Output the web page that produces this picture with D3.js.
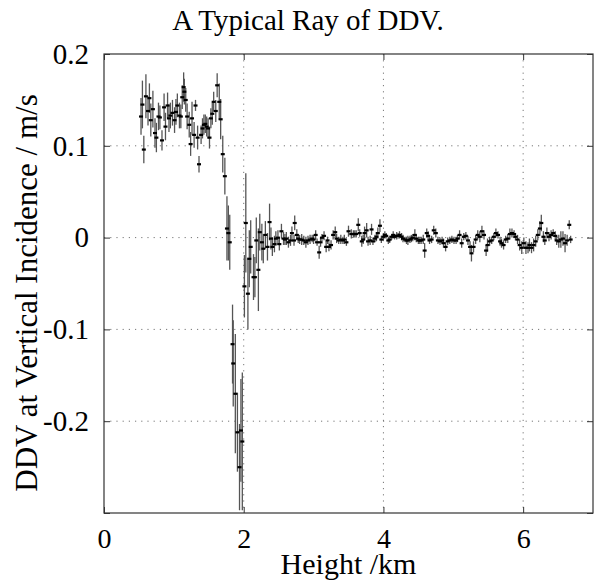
<!DOCTYPE html>
<html>
<head>
<meta charset="utf-8">
<script src="https://cdn.jsdelivr.net/npm/d3@7"></script>
<style>
  body { margin: 0; background: #fff; }
  svg { display: block; }
  .axis text { fill: #000; }
  .axis line { stroke: #333; }
  .axis path { display: none; }
</style>
</head>
<body>
<div id="chart"></div>
<script>
// heights (km) of each sample
const heights = [
  // below the layer
  0.53,0.55,0.57,0.60,0.63,0.65,0.67,0.70,0.73,0.75,
  0.78,0.80,0.83,0.86,0.88,0.91,0.93,0.95,0.98,1.01,
  1.03,1.05,1.08,1.10,1.12,1.14,1.15,1.17,1.19,1.22,
  1.24,1.26,1.29,1.31,1.34,1.36,1.39,1.41,1.43,1.45,
  1.47,1.49,1.51,1.53,1.55,1.57,1.60,1.62,1.65,1.67,
  1.70,1.73,
  // drop
  1.76,1.78,1.80,1.84,1.85,1.88,1.91,1.94,1.96,1.98,
  // above
  2.01,2.03,2.06,2.08,2.10,2.14,2.16,2.18,2.21,2.23,
  2.26,2.28,2.31,2.34,2.37,2.39,2.41,2.44,2.46,2.49,
  2.51,2.54,2.57,2.59,2.61,2.64,2.67,2.69,2.72,2.73,
  2.76,2.78,2.80,2.83,2.86,2.89,2.92,2.95,2.98,3.00,
  3.03,3.05,3.08,3.10,3.12,3.15,3.18,3.20,3.22,3.25,
  3.28,3.31,3.33,3.36,3.39,3.42,3.44,3.47,3.50,
  3.54,3.57,3.59,3.61,3.64,3.66,3.69,3.71,3.73,3.76,
  3.78,3.81,3.83,3.85,3.88,3.90,3.92,3.95,3.97,4.00,
  4.02,4.04,4.07,4.09,4.12,4.14,4.16,4.19,4.21,4.23,
  4.26,4.28,4.31,4.33,4.35,4.38,4.40,4.42,4.45,4.47,
  4.50,4.52,4.54,4.57,4.59,4.62,4.64,
  4.66,4.69,4.72,4.75,4.78,4.81,4.84,4.86,4.89,4.92,
  4.95,4.98,5.01,5.04,5.06,5.09,5.12,5.15,5.18,5.21,
  5.24,5.26,5.29,5.32,5.35,5.38,5.41,5.44,5.47,5.49,
  5.52,5.55,5.58,5.61,5.64,5.67,5.69,5.72,5.75,5.78,
  5.81,5.84,5.87,5.89,5.92,5.95,5.98,6.01,6.04,6.07,
  6.09,6.12,6.15,6.18,6.21,6.24,6.26,6.29,6.31,6.34,
  6.37,6.40,6.43,6.46,6.48,6.51,6.54,6.57,6.60,6.63,
  6.66,6.68
];

// DDV at vertical incidence (m/s)
const ddv = [
  0.132,0.145,0.096,0.154,0.138,0.152,0.128,0.140,0.114,0.109,
  0.132,0.131,0.106,0.142,0.121,0.144,0.130,0.133,0.136,0.128,
  0.137,0.144,0.133,0.132,0.153,0.164,0.159,0.150,0.132,0.123,
  0.102,0.130,0.112,0.144,0.109,0.080,0.112,0.119,0.123,0.124,
  0.121,0.119,0.109,0.130,0.135,0.148,0.138,0.166,0.148,0.129,
  0.091,0.067,
  0.010,0.005,-0.005,-0.116,-0.137,-0.170,-0.212,-0.250,-0.210,-0.222,
  -0.053,0.016,-0.061,-0.023,-0.010,-0.043,-0.043,-0.003,-0.035,0.006,
  -0.005,-0.012,0.003,-0.010,0.017,-0.001,-0.010,-0.007,-0.001,0.000,
  -0.007,0.007,-0.001,-0.002,-0.001,-0.005,-0.003,0.005,-0.003,0.016,
  0.003,-0.001,-0.002,-0.002,-0.003,-0.005,-0.003,-0.002,-0.001,-0.002,
  0.003,-0.005,-0.016,-0.005,0.000,0.002,-0.010,-0.003,-0.010,-0.008,
  0.003,0.006,-0.001,-0.003,-0.002,-0.003,-0.002,-0.005,0.007,
  0.004,0.004,0.004,0.004,0.014,0.005,-0.004,-0.002,0.005,0.008,
  -0.004,-0.003,0.009,-0.004,-0.001,0.001,0.005,0.013,-0.002,0.001,
  0.003,0.002,-0.003,-0.002,0.001,0.003,0.001,0.002,0.002,0.003,
  0.001,-0.001,-0.002,-0.003,-0.003,-0.002,-0.001,0.000,0.003,-0.001,
  -0.003,-0.003,-0.003,-0.002,-0.014,0.005,0.002,
  -0.003,-0.002,0.008,0.005,-0.003,-0.004,-0.003,-0.006,-0.010,-0.004,
  -0.003,-0.002,-0.003,-0.003,-0.001,0.003,-0.006,0.001,0.002,-0.003,
  -0.010,-0.017,-0.010,-0.002,0.003,0.001,0.007,0.003,-0.014,-0.008,
  -0.004,-0.003,0.001,0.005,0.003,-0.004,-0.006,-0.008,-0.002,-0.001,
  0.004,0.005,0.004,0.001,-0.002,-0.008,-0.011,-0.006,-0.011,-0.011,
  -0.008,-0.011,-0.008,-0.004,0.003,0.010,0.016,0.001,-0.003,0.005,
  0.001,0.003,0.005,0.002,-0.003,-0.004,-0.002,-0.001,-0.006,-0.003,
  0.014,-0.002
];

// half length of each error bar (m/s)
const ddvErr = [
  0.020,0.026,0.015,0.024,0.016,0.016,0.018,0.020,0.016,0.016,
  0.015,0.013,0.011,0.015,0.015,0.014,0.015,0.014,0.014,0.014,
  0.014,0.013,0.014,0.013,0.013,0.016,0.014,0.013,0.014,0.014,
  0.013,0.018,0.014,0.006,0.013,0.009,0.010,0.011,0.011,0.010,
  0.011,0.011,0.012,0.011,0.012,0.011,0.012,0.013,0.020,0.022,
  0.020,0.020,
  0.035,0.030,0.030,0.043,0.047,0.065,0.043,0.047,0.056,0.075,
  0.034,0.054,0.039,0.031,0.029,0.025,0.022,0.025,0.045,0.020,
  0.020,0.016,0.015,0.015,0.020,0.012,0.010,0.009,0.008,0.008,
  0.007,0.008,0.007,0.006,0.007,0.006,0.006,0.007,0.006,0.008,
  0.006,0.005,0.005,0.006,0.005,0.006,0.005,0.005,0.004,0.005,
  0.005,0.004,0.007,0.005,0.004,0.005,0.006,0.004,0.005,0.005,
  0.005,0.006,0.005,0.004,0.005,0.004,0.005,0.004,0.006,
  0.005,0.004,0.004,0.004,0.007,0.004,0.006,0.005,0.007,0.008,
  0.005,0.005,0.006,0.004,0.004,0.005,0.006,0.007,0.004,0.004,
  0.004,0.003,0.004,0.004,0.003,0.004,0.003,0.004,0.003,0.004,
  0.004,0.004,0.003,0.004,0.005,0.004,0.004,0.004,0.006,0.004,
  0.004,0.004,0.004,0.005,0.008,0.005,0.005,
  0.004,0.004,0.005,0.005,0.004,0.004,0.004,0.005,0.005,0.004,
  0.004,0.004,0.004,0.004,0.004,0.005,0.005,0.004,0.004,0.005,
  0.006,0.009,0.006,0.005,0.005,0.006,0.006,0.005,0.006,0.007,
  0.005,0.004,0.004,0.005,0.004,0.005,0.005,0.005,0.004,0.005,
  0.006,0.005,0.004,0.004,0.005,0.006,0.007,0.006,0.007,0.006,
  0.007,0.006,0.007,0.006,0.006,0.008,0.009,0.006,0.005,0.006,
  0.005,0.005,0.004,0.005,0.005,0.007,0.009,0.008,0.010,0.006,
  0.005,0.004
];

const xTicks = [0, 2, 4, 6];
const yTicks = [-0.3, -0.2, -0.1, 0, 0.1, 0.2];
const yGrid = [-0.2, -0.1, 0, 0.1];
const xGrid = [2, 4, 6];

const data = heights.map((h, i) => ({ h, v: ddv[i], e: ddvErr[i] }));

const serif = '"Liberation Serif", "Times New Roman", Times, "DejaVu Serif", serif';
const width = 596, height = 582;
const margin = { top: 54, right: 3, bottom: 69, left: 104 };
const innerW = width - margin.left - margin.right;
const innerH = height - margin.top - margin.bottom;

const svg = d3.select('#chart').append('svg')
  .attr('width', width)
  .attr('height', height)
  .attr('font-family', serif);

const g = svg.append('g').attr('transform', `translate(${margin.left},${margin.top})`);

const x = d3.scaleLinear().domain([0, 7]).range([0, innerW]);
const y = d3.scaleLinear().domain([-0.3, 0.2]).range([innerH, 0]);

svg.append('defs').append('clipPath').attr('id', 'plot')
  .append('rect').attr('width', innerW).attr('height', innerH);

// dotted grid
g.append('g').selectAll('line').data(xGrid).join('line')
  .attr('x1', d => x(d)).attr('x2', d => x(d))
  .attr('y1', 0).attr('y2', innerH)
  .attr('stroke', '#777').attr('stroke-dasharray', '1.2,5');
g.append('g').selectAll('line').data(yGrid).join('line')
  .attr('y1', d => y(d)).attr('y2', d => y(d))
  .attr('x1', 0).attr('x2', innerW)
  .attr('stroke', '#777').attr('stroke-dasharray', '1.2,5');

const fmt = d => d === 0 ? '0' : d3.format('.1f')(d).replace('\u2212', '-');

const gx = g.append('g').attr('class', 'axis')
  .attr('transform', `translate(0,${innerH})`)
  .call(d3.axisBottom(x).tickValues(xTicks).tickSizeInner(-6).tickSizeOuter(0).tickPadding(15).tickFormat(d3.format('d')));
const gy = g.append('g').attr('class', 'axis')
  .call(d3.axisLeft(y).tickValues(yTicks).tickSizeInner(-6).tickSizeOuter(0).tickPadding(15)
    .tickFormat(d => d === -0.3 ? '' : fmt(d)));
g.append('g').attr('class', 'axis')
  .call(d3.axisTop(x).tickValues(xTicks).tickSizeInner(-6).tickSizeOuter(0).tickFormat(''));
g.append('g').attr('class', 'axis')
  .attr('transform', `translate(${innerW},0)`)
  .call(d3.axisRight(y).tickValues(yTicks).tickSizeInner(-6).tickSizeOuter(0).tickFormat(''));

gx.attr('font-family', serif).attr('font-size', 28);
gy.attr('font-family', serif).attr('font-size', 29);

// box
g.append('rect')
  .attr('width', innerW).attr('height', innerH)
  .attr('fill', 'none').attr('stroke', '#333').attr('stroke-width', 1.2);

// error bars and points
const pts = g.append('g').attr('clip-path', 'url(#plot)');
pts.selectAll('line.err').data(data).join('line')
  .attr('class', 'err')
  .attr('x1', d => x(d.h)).attr('x2', d => x(d.h))
  .attr('y1', d => y(d.v - d.e)).attr('y2', d => y(d.v + d.e))
  .attr('stroke', '#555').attr('stroke-width', 1.3);
pts.selectAll('rect.pt').data(data).join('rect')
  .attr('class', 'pt')
  .attr('x', d => x(d.h) - 2).attr('y', d => y(d.v) - 1)
  .attr('width', 4).attr('height', 2.2)
  .attr('fill', '#000');

// titles
svg.append('text')
  .attr('x', 308).attr('y', 30)
  .attr('text-anchor', 'middle')
  .attr('font-size', 29)
  .text('A Typical Ray of DDV.');

svg.append('text')
  .attr('x', margin.left + innerW / 2).attr('y', 574)
  .attr('text-anchor', 'middle')
  .attr('font-size', 30)
  .text('Height /km');

svg.append('text')
  .attr('transform', `translate(37,293) rotate(-90)`)
  .attr('text-anchor', 'middle')
  .attr('font-size', 31)
  .text('DDV at Vertical Incidence / m/s');
</script>
</body>
</html>
